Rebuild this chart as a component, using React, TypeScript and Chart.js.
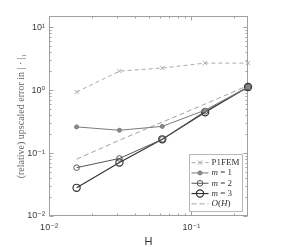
import React, { useEffect, useRef } from 'react';
import { Chart, registerables } from 'chart.js';

Chart.register(...registerables);

const H = [0.015625, 0.03125, 0.0625, 0.125, 0.25];
const P1FEM = [0.93, 2.0, 2.24, 2.68, 2.68];
const M1 = [0.26, 0.23, 0.265, 0.48, 1.12];
const M2 = [0.0586, 0.082, 0.165, 0.46, 1.12];
const M3 = [0.028, 0.0706, 0.165, 0.445, 1.12];
const OH = [0.08, 0.16, 0.31, 0.6, 1.18];
const seriesNames = ['P1FEM', 'm = 1', 'm = 2', 'm = 3', 'O(H)'];

const xTickValues = [0.01, 0.1];
const xTickLabels = ['10⁻²', '10⁻¹'];
const yTickValues = [0.01, 0.1, 1, 10];
const yTickLabels = ['10⁻²', '10⁻¹', '10⁰', '10¹'];
const X_MIN = 0.01, X_MAX = 0.25, Y_MIN = 0.01, Y_MAX = 15;

const AXIS_COLOR = '#a0a0a0';
const TICK_TEXT = '#3a3a3a';
const SERIF = '"Liberation Serif", "DejaVu Serif", serif';
const SANS = '"Liberation Sans", Arial, "DejaVu Sans", sans-serif';

function logTicks(min: number, max: number) {
  const out: { v: number; major: boolean }[] = [];
  for (let e = Math.floor(Math.log10(min)); e <= Math.ceil(Math.log10(max)); e++) {
    for (let d = 1; d <= 9; d++) {
      const v = d * Math.pow(10, e);
      if (v >= min * 0.9999 && v <= max * 1.0001) out.push({ v, major: d === 1 });
    }
  }
  return out;
}

const axesBoxPlugin = {
  id: 'axesBox',
  beforeDatasetsDraw(chart: any) {
    const { ctx, chartArea: a, scales } = chart;
    const xs = scales.x, ys = scales.y;
    ctx.save();
    ctx.strokeStyle = AXIS_COLOR;
    ctx.lineWidth = 1;
    const L = Math.round(a.left) + 0.5, R = Math.round(a.right) - 0.5;
    const T = Math.round(a.top) + 0.5, B = Math.round(a.bottom) - 0.5;
    ctx.strokeRect(L, T, R - L, B - T);
    ctx.beginPath();
    for (const t of logTicks(X_MIN, X_MAX)) {
      const px = Math.round(xs.getPixelForValue(t.v)) + 0.5;
      const len = t.major ? 4 : 2;
      ctx.moveTo(px, B); ctx.lineTo(px, B - len);
      ctx.moveTo(px, T); ctx.lineTo(px, T + len);
    }
    for (const t of logTicks(Y_MIN, Y_MAX)) {
      const py = Math.round(ys.getPixelForValue(t.v)) + 0.5;
      const len = t.major ? 4 : 2;
      ctx.moveTo(L, py); ctx.lineTo(L + len, py);
      ctx.moveTo(R, py); ctx.lineTo(R - len, py);
    }
    ctx.stroke();
    ctx.restore();
  },
  afterDraw(chart: any) {
    const { ctx, chartArea: a } = chart;
    const ds = chart.data.datasets;
    ctx.save();
    const fs = 9;
    const regular = `${fs}px ${SERIF}`;
    const italic = `italic ${fs}px ${SERIF}`;
    const runs = (label: string) => {
      if (label === 'P1FEM') return [{ t: label, f: regular }];
      return label.split('').map((c) => ({ t: c, f: /[A-Za-z]/.test(c) ? italic : regular }));
    };
    const widthOf = (label: string) =>
      runs(label).reduce((w, r) => { ctx.font = r.f; return w + ctx.measureText(r.t).width; }, 0);
    const lineLen = 17, padL = 2, gap = 3, padR = 3, rowH = 10.3, padT = 3;
    const textW = Math.max(...ds.map((d: any) => widthOf(d.label)));
    const w = padL + lineLen + gap + textW + padR;
    const h = padT * 2 + rowH * ds.length;
    const right = Math.round(a.right) - 5.5;
    const bottom = Math.round(a.bottom) - 4.5;
    const left = Math.round(right - w) + 0.5;
    const top = Math.round(bottom - h) + 0.5;
    ctx.fillStyle = '#ffffff';
    ctx.fillRect(left, top, right - left, bottom - top);
    ctx.strokeStyle = '#b8b8b8';
    ctx.lineWidth = 1;
    ctx.strokeRect(left, top, right - left, bottom - top);
    ds.forEach((d: any, i: number) => {
      const cy = top + padT + rowH * i + rowH / 2;
      const x0 = left + padL, x1 = x0 + lineLen;
      ctx.save();
      ctx.strokeStyle = d.borderColor;
      ctx.lineWidth = d.borderWidth;
      ctx.setLineDash(d.borderDash || []);
      ctx.beginPath();
      ctx.moveTo(x0, cy); ctx.lineTo(x1, cy);
      ctx.stroke();
      ctx.setLineDash([]);
      if (d.pointRadius > 0) {
        const cx = (x0 + x1) / 2, r = d.pointRadius;
        ctx.strokeStyle = d.pointBorderColor;
        ctx.lineWidth = d.pointBorderWidth;
        ctx.fillStyle = d.pointBackgroundColor;
        ctx.beginPath();
        if (d.pointStyle === 'crossRot') {
          const k = r * Math.SQRT1_2;
          ctx.moveTo(cx - k, cy - k); ctx.lineTo(cx + k, cy + k);
          ctx.moveTo(cx - k, cy + k); ctx.lineTo(cx + k, cy - k);
          ctx.stroke();
        } else {
          ctx.arc(cx, cy, r, 0, Math.PI * 2);
          ctx.fill();
          ctx.stroke();
        }
      }
      ctx.restore();
      let tx = x1 + gap;
      ctx.fillStyle = '#333333';
      ctx.textBaseline = 'middle';
      ctx.textAlign = 'left';
      for (const r of runs(d.label)) {
        ctx.font = r.f;
        ctx.fillText(r.t, tx, cy);
        tx += ctx.measureText(r.t).width;
      }
    });
    ctx.restore();
  },
};

export default function App() {
  const ref = useRef<HTMLCanvasElement | null>(null);
  useEffect(() => {
    if (!ref.current) return;
    const mk = (i: number, values: number[], color: string, extra: any) => ({
      label: seriesNames[i],
      data: H.map((h, k) => ({ x: h, y: values[k] })),
      borderColor: color,
      pointBorderColor: color,
      borderWidth: 1,
      pointBorderWidth: 1,
      tension: 0,
      clip: false,
      ...extra,
    });
    const chart = new Chart(ref.current, {
      type: 'line',
      data: {
        datasets: [
          mk(0, P1FEM, '#ababab', { borderDash: [4, 3], pointStyle: 'crossRot', pointRadius: 3, pointBackgroundColor: '#ababab' }),
          mk(1, M1, '#7a7a7a', { pointStyle: 'circle', pointRadius: 2, pointBackgroundColor: '#8a8a8a' }),
          mk(2, M2, '#555555', { pointStyle: 'circle', pointRadius: 2.8, pointBackgroundColor: 'rgba(255,255,255,0)' }),
          mk(3, M3, '#333333', { pointStyle: 'circle', pointRadius: 3.6, borderWidth: 1.2, pointBorderWidth: 1.2, pointBackgroundColor: 'rgba(255,255,255,0)' }),
          mk(4, OH, '#8a8a8a', { borderDash: [5, 3], pointRadius: 0, borderWidth: 0.8 }),
        ],
      },
      options: {
        responsive: false,
        animation: false,
        devicePixelRatio: 1,
        layout: { padding: { left: 0, top: 16, right: 33, bottom: 0 } },
        plugins: { legend: { display: false }, tooltip: { enabled: false } },
        scales: {
          x: {
            type: 'logarithmic',
            position: 'bottom',
            min: X_MIN,
            max: X_MAX,
            grid: { display: false, drawTicks: false },
            border: { display: false },
            afterBuildTicks: (s: any) => { s.ticks = xTickValues.map((v) => ({ value: v })); },
            afterFit: (s: any) => { s.height = 31; },
            ticks: {
              autoSkip: false,
              maxRotation: 0,
              padding: 6,
              color: TICK_TEXT,
              font: { family: SANS, size: 9 },
              callback: (v: any) => {
                const i = xTickValues.findIndex((t) => Math.abs(t - v) / t < 1e-6);
                return i >= 0 ? xTickLabels[i] : '';
              },
            },
            title: {
              display: true,
              text: 'H',
              color: '#333333',
              font: { family: SANS, size: 11, lineHeight: 1 },
              padding: { top: 0, bottom: 0 },
            },
          },
          y: {
            type: 'logarithmic',
            position: 'left',
            min: Y_MIN,
            max: Y_MAX,
            grid: { display: false, drawTicks: false },
            border: { display: false },
            afterBuildTicks: (s: any) => { s.ticks = yTickValues.map((v) => ({ value: v })); },
            afterFit: (s: any) => { s.width = 49; },
            ticks: {
              autoSkip: false,
              padding: 4,
              color: TICK_TEXT,
              font: { family: SANS, size: 9 },
              callback: (v: any) => {
                const i = yTickValues.findIndex((t) => Math.abs(t - v) / t < 1e-6);
                return i >= 0 ? yTickLabels[i] : '';
              },
            },
            title: {
              display: true,
              text: '(relative) upscaled error in | · |₁',
              color: '#666666',
              font: { family: SERIF, size: 10, lineHeight: 1.2 },
              padding: { top: 15, bottom: 0 },
            },
          },
        },
      },
      plugins: [axesBoxPlugin],
    } as any);
    return () => chart.destroy();
  }, []);
  return (
    <div style={{ position: 'fixed', left: 0, top: 0, width: 281, height: 247, background: '#ffffff' }}>
      <canvas ref={ref} width={281} height={247} style={{ width: 281, height: 247, display: 'block' }} />
    </div>
  );
}
